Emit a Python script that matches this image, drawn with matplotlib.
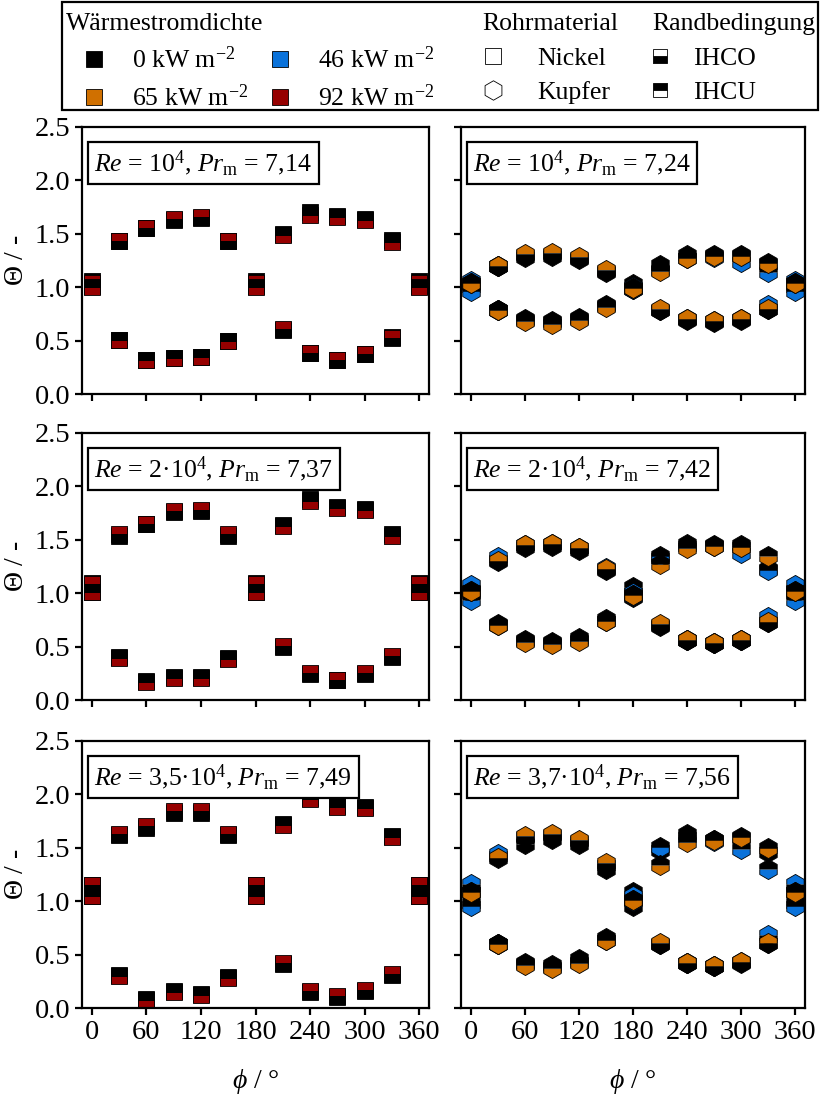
import matplotlib
matplotlib.use('Agg')
import matplotlib.pyplot as plt
from matplotlib.lines import Line2D
from matplotlib.patches import Rectangle

plt.rcParams['font.family'] = ['Liberation Serif', 'DejaVu Serif']
plt.rcParams['mathtext.fontset'] = 'custom'
plt.rcParams['mathtext.rm'] = 'Liberation Serif'
plt.rcParams['mathtext.it'] = 'Liberation Serif:italic'
plt.rcParams['font.size'] = 19
plt.rcParams['axes.linewidth'] = 1.6
for a in ['xtick', 'ytick']:
    plt.rcParams[a + '.major.width'] = 1.6
    plt.rcParams[a + '.major.size'] = 5
    plt.rcParams[a + '.direction'] = 'out'
    plt.rcParams[a + '.labelsize'] = 20.5

# Winkel
phi = [0, 30, 60, 90, 120, 150, 180, 210, 240, 270, 300, 330, 360]

# Farben der Waermestromdichten
c_q0 = '#000000'
c_q46 = '#0A72DA'
c_q65 = '#D07000'
c_q92 = '#960000'

# ---- Nickel, Re = 1e4
ni1_q0_ihcu = [1.06, 1.43, 1.55, 1.63, 1.65, 1.43, 1.06, 0.60, 0.38, 0.32, 0.37, 0.53, 1.06]
ni1_q0_ihco = [1.01, 0.51, 0.32, 0.34, 0.35, 0.50, 1.01, 1.50, 1.70, 1.67, 1.64, 1.44, 1.01]
ni1_q92_ihcu = [1.04, 1.435, 1.55, 1.64, 1.655, 1.435, 1.04, 0.605, 0.38, 0.32, 0.37, 0.52, 1.04]
ni1_q92_ihco = [1.005, 0.505, 0.32, 0.335, 0.35, 0.50, 1.005, 1.49, 1.675, 1.655, 1.63, 1.425, 1.005]

# ---- Nickel, Re = 2e4
ni2_q0_ihcu = [1.10, 1.54, 1.65, 1.76, 1.77, 1.54, 1.10, 0.50, 0.24, 0.19, 0.24, 0.40, 1.10]
ni2_q0_ihco = [1.01, 0.40, 0.18, 0.22, 0.22, 0.39, 1.01, 1.64, 1.88, 1.81, 1.79, 1.55, 1.01]
ni2_q92_ihcu = [1.09, 1.55, 1.65, 1.77, 1.78, 1.55, 1.09, 0.51, 0.25, 0.19, 0.25, 0.41, 1.09]
ni2_q92_ihco = [1.01, 0.39, 0.17, 0.21, 0.21, 0.38, 1.01, 1.63, 1.86, 1.80, 1.78, 1.54, 1.01]

# ---- Nickel, Re = 3,5e4
ni3_q0_ihcu = [1.15, 1.62, 1.69, 1.83, 1.83, 1.62, 1.15, 0.41, 0.15, 0.10, 0.16, 0.31, 1.15]
ni3_q0_ihco = [1.05, 0.31, 0.08, 0.16, 0.13, 0.29, 1.05, 1.72, 1.97, 1.89, 1.88, 1.61, 1.05]
ni3_q92_ihcu = [1.15, 1.63, 1.70, 1.84, 1.84, 1.63, 1.15, 0.42, 0.16, 0.11, 0.17, 0.32, 1.15]
ni3_q92_ihco = [1.05, 0.30, 0.075, 0.15, 0.12, 0.285, 1.05, 1.71, 1.96, 1.88, 1.87, 1.60, 1.05]

# ---- Kupfer, Re = 1e4
cu1_q0_ihcu = [1.03, 1.20, 1.28, 1.29, 1.26, 1.14, 1.03, 0.79, 0.69, 0.67, 0.69, 0.80, 1.03]
cu1_q0_ihco = [1.00, 0.79, 0.70, 0.68, 0.71, 0.83, 0.98, 1.21, 1.30, 1.30, 1.30, 1.22, 1.00]
cu1_q46_ihcu = [1.06, 1.20, 1.30, 1.31, 1.27, 1.15, 1.00, 0.79, 0.70, 0.68, 0.70, 0.83, 1.06]
cu1_q46_ihco = [0.96, 0.79, 0.69, 0.67, 0.70, 0.82, 0.98, 1.16, 1.27, 1.28, 1.24, 1.14, 0.96]
cu1_q65_ihcu = [1.04, 1.20, 1.31, 1.32, 1.28, 1.16, 0.99, 0.80, 0.70, 0.68, 0.70, 0.80, 1.04]
cu1_q65_ihco = [1.04, 0.79, 0.68, 0.66, 0.69, 0.81, 0.99, 1.15, 1.27, 1.29, 1.29, 1.23, 1.04]

# ---- Kupfer, Re = 2e4
cu2_q0_ihcu = [1.03, 1.31, 1.43, 1.44, 1.40, 1.22, 1.06, 0.69, 0.56, 0.53, 0.56, 0.73, 1.03]
cu2_q0_ihco = [1.00, 0.71, 0.56, 0.54, 0.58, 0.76, 0.96, 1.33, 1.46, 1.45, 1.45, 1.23, 1.00]
cu2_q46_ihcu = [1.08, 1.34, 1.45, 1.46, 1.42, 1.24, 1.00, 0.70, 0.56, 0.53, 0.56, 0.78, 1.08]
cu2_q46_ihco = [0.94, 0.70, 0.55, 0.53, 0.56, 0.74, 0.97, 1.35, 1.44, 1.44, 1.38, 1.22, 0.94]
cu2_q65_ihcu = [1.02, 1.30, 1.45, 1.46, 1.42, 1.23, 0.98, 0.71, 0.56, 0.53, 0.56, 0.73, 1.02]
cu2_q65_ihco = [1.02, 0.70, 0.54, 0.52, 0.55, 0.74, 0.98, 1.27, 1.42, 1.44, 1.43, 1.35, 1.02]

# ---- Kupfer, Re = 3,7e4
cu3_q0_ihcu = [1.09, 1.42, 1.54, 1.58, 1.54, 1.30, 1.09, 0.60, 0.42, 0.39, 0.42, 0.61, 1.09]
cu3_q0_ihco = [0.98, 0.60, 0.42, 0.40, 0.46, 0.66, 0.955, 1.48, 1.63, 1.57, 1.59, 1.46, 0.98]
cu3_q46_ihcu = [1.16, 1.44, 1.60, 1.62, 1.56, 1.34, 1.05, 0.60, 0.42, 0.39, 0.43, 0.68, 1.16]
cu3_q46_ihco = [0.955, 0.60, 0.41, 0.38, 0.43, 0.64, 1.00, 1.51, 1.60, 1.56, 1.49, 1.30, 0.955]
cu3_q65_ihcu = [1.09, 1.40, 1.61, 1.63, 1.57, 1.355, 1.01, 0.61, 0.42, 0.39, 0.43, 0.61, 1.09]
cu3_q65_ihco = [1.09, 0.60, 0.40, 0.37, 0.42, 0.64, 1.01, 1.34, 1.55, 1.57, 1.60, 1.495, 1.09]

labels = [
    r'$\mathit{Re}$ = 10$^4$, $\mathit{Pr}_\mathrm{m}$ = 7,14',
    r'$\mathit{Re}$ = 10$^4$, $\mathit{Pr}_\mathrm{m}$ = 7,24',
    r'$\mathit{Re}$ = 2·10$^4$, $\mathit{Pr}_\mathrm{m}$ = 7,37',
    r'$\mathit{Re}$ = 2·10$^4$, $\mathit{Pr}_\mathrm{m}$ = 7,42',
    r'$\mathit{Re}$ = 3,5·10$^4$, $\mathit{Pr}_\mathrm{m}$ = 7,49',
    r'$\mathit{Re}$ = 3,7·10$^4$, $\mathit{Pr}_\mathrm{m}$ = 7,56',
]

panels = [
    [(c_q0, ni1_q0_ihcu, ni1_q0_ihco), (c_q92, ni1_q92_ihcu, ni1_q92_ihco)],
    [(c_q0, cu1_q0_ihcu, cu1_q0_ihco), (c_q46, cu1_q46_ihcu, cu1_q46_ihco), (c_q65, cu1_q65_ihcu, cu1_q65_ihco)],
    [(c_q0, ni2_q0_ihcu, ni2_q0_ihco), (c_q92, ni2_q92_ihcu, ni2_q92_ihco)],
    [(c_q0, cu2_q0_ihcu, cu2_q0_ihco), (c_q46, cu2_q46_ihcu, cu2_q46_ihco), (c_q65, cu2_q65_ihcu, cu2_q65_ihco)],
    [(c_q0, ni3_q0_ihcu, ni3_q0_ihco), (c_q92, ni3_q92_ihcu, ni3_q92_ihco)],
    [(c_q0, cu3_q0_ihcu, cu3_q0_ihco), (c_q46, cu3_q46_ihcu, cu3_q46_ihco), (c_q65, cu3_q65_ihcu, cu3_q65_ihco)],
]

W, H = 822, 1095
fig = plt.figure(figsize=(W / 100, H / 100), dpi=100)

col_x = [(82, 429), (461, 805)]
row_y = [(127, 394), (433, 700), (741, 1008)]

for i, series in enumerate(panels):
    r, c = divmod(i, 2)
    x0, x1 = col_x[c]
    y0, y1 = row_y[r]
    ax = fig.add_axes([x0 / W, 1 - y1 / H, (x1 - x0) / W, (y1 - y0) / H])
    marker, ms = ('s', 12) if c == 0 else ('h', 14.5)
    for color, ihcu, ihco in series:
        ax.plot(phi, ihcu, ls='none', marker=marker, ms=ms, fillstyle='top',
                mfc=color, mfcalt='k', mec='k', mew=0.6)
        ax.plot(phi, ihco, ls='none', marker=marker, ms=ms, fillstyle='bottom',
                mfc=color, mfcalt='k', mec='k', mew=0.6)
    ax.set_xlim(-11, 371)
    ax.set_ylim(0, 2.5)
    ax.set_xticks(range(0, 361, 60))
    ax.set_yticks([0, 0.5, 1.0, 1.5, 2.0, 2.5])
    ax.yaxis.set_major_formatter(plt.FormatStrFormatter('%.1f'))
    if r < 2:
        ax.tick_params(labelbottom=False)
    else:
        ax.set_xlabel(r'$\phi$ / °', labelpad=16, fontsize=20)
    if c == 1:
        ax.tick_params(labelleft=False)
    else:
        ax.set_ylabel(r'$\mathit{\Theta}$ / -', labelpad=4, fontsize=20)
    ax.text(0.036, 0.92, labels[i], transform=ax.transAxes, ha='left', va='top',
            fontsize=18.5, zorder=10,
            bbox=dict(boxstyle='square,pad=0.25', fc='white', ec='k', lw=1.6))

# Legende
mk = dict(ls='none', mec='k', mew=0.6)
h_q = [Line2D([], [], marker='s', ms=12, mfc=c_q0, **mk),
       Line2D([], [], marker='s', ms=12, mfc=c_q65, **mk),
       Line2D([], [], marker='s', ms=12, mfc=c_q46, **mk),
       Line2D([], [], marker='s', ms=12, mfc=c_q92, **mk)]
l_q = ['0 kW m$^{-2}$', '65 kW m$^{-2}$', '46 kW m$^{-2}$', '92 kW m$^{-2}$']
h_m = [Line2D([], [], marker='s', ms=12, mfc='none', **mk),
       Line2D([], [], marker='h', ms=14, mfc='none', **mk)]
h_b = [Line2D([], [], marker='s', ms=10, fillstyle='bottom', mfc='k', mfcalt='white', **mk),
       Line2D([], [], marker='s', ms=10, fillstyle='top', mfc='k', mfcalt='white', **mk)]

common = dict(loc='upper left', frameon=False, borderpad=0, borderaxespad=0,
              labelspacing=0.45, alignment='left', fontsize=18.5, title_fontsize=18.5)
fig.legend(h_q, l_q, title='Wärmestromdichte', ncol=2, handlelength=2.15,
           handletextpad=0.4, columnspacing=0.2,
           bbox_to_anchor=(66 / W, 1 - 13 / H), **common)
fig.legend(h_m, ['Nickel', 'Kupfer'], title='Rohrmaterial', handlelength=0.85,
           handletextpad=1.3, bbox_to_anchor=(482 / W, 1 - 13 / H), **common)
fig.legend(h_b, ['IHCO', 'IHCU'], title='Randbedingung', handlelength=0.6,
           handletextpad=1.0, bbox_to_anchor=(652 / W, 1 - 13 / H), **common)
fig.add_artist(Rectangle((62 / W, 1 - 110 / H), (818 - 62) / W, 108 / H,
                         transform=fig.transFigure, fill=False, ec='k', lw=1.6))

fig.savefig('out.png', dpi=100)
